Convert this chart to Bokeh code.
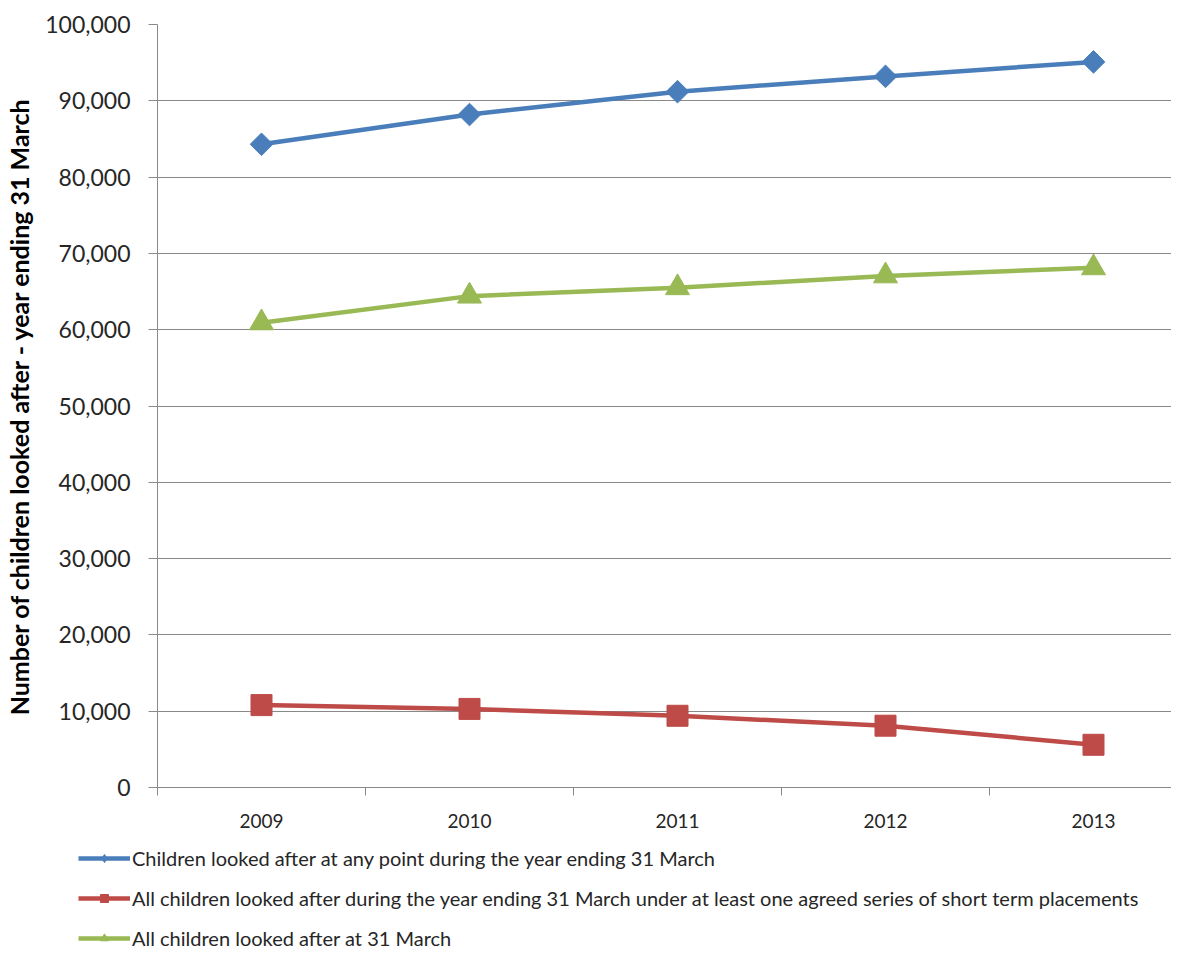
import math
from bokeh.plotting import figure
from bokeh.models import Range1d, FixedTicker, NumeralTickFormatter, Legend, LegendItem
from bokeh.embed import file_html
from bokeh.resources import INLINE

years = [2009, 2010, 2011, 2012, 2013]
year_labels = ["2009", "2010", "2011", "2012", "2013"]
any_point = [84300, 88200, 91200, 93200, 95100]
short_term = [10800, 10300, 9400, 8100, 5600]
at_31_march = [60900, 64400, 65500, 67050, 68110]

names = [
    "Children looked after at any point during the year ending 31 March",
    "All children looked after during the year ending 31 March under at least one agreed series of short term placements",
    "All children looked after at 31 March",
]
y_ticks = list(range(0, 100001, 10000))

FONT = "Lato"
TXT = "#262626"
GRID = "#898989"
blue, red, green = "#4A7EBB", "#BE4B48", "#98B954"

W = 1171
p = figure(width=W, height=835, output_backend="svg", toolbar_location=None,
           x_range=Range1d(2008.5, 2008.5 + (W - 157) / 208.0), y_range=Range1d(0, 100000),
           min_border_left=157, min_border_top=24, min_border_right=0, min_border_bottom=48)
p.outline_line_color = None
p.xgrid.grid_line_color = None
p.ygrid.grid_line_color = GRID
p.ygrid.grid_line_width = 1

p.yaxis.ticker = FixedTicker(ticks=y_ticks)
p.yaxis.formatter = NumeralTickFormatter(format="0,0")
p.yaxis.axis_line_color = GRID
p.yaxis.major_tick_line_color = GRID
p.yaxis.major_tick_out = 9
p.yaxis.major_tick_in = 0
p.yaxis.minor_tick_line_color = None
p.yaxis.major_label_standoff = 18
p.yaxis.major_label_text_font = FONT
p.yaxis.major_label_text_font_size = "23px"
p.yaxis.major_label_text_color = TXT
p.yaxis.axis_label = "Number of children looked after - year ending 31 March"
p.yaxis.axis_label_text_font = FONT
p.yaxis.axis_label_text_font_style = "bold"
p.yaxis.axis_label_text_font_size = "25px"
p.yaxis.axis_label_text_color = "black"
p.yaxis.axis_label_standoff = 8

p.xaxis.ticker = FixedTicker(ticks=years, minor_ticks=[y - 0.5 for y in years])
p.xaxis.major_label_overrides = {y: l for y, l in zip(years, year_labels)}
p.xaxis.axis_line_color = GRID
p.xaxis.major_tick_line_color = None
p.xaxis.major_tick_out = 0
p.xaxis.major_tick_in = 0
p.xaxis.minor_tick_line_color = GRID
p.xaxis.minor_tick_out = 8
p.xaxis.minor_tick_in = 0
p.xaxis.major_label_standoff = 18
p.xaxis.major_label_text_font = FONT
p.xaxis.major_label_text_font_size = "19px"
p.xaxis.major_label_text_color = TXT

series = [(names[0], any_point, blue, "square", math.pi / 4, 16, "diamond"),
          (names[1], short_term, red, "square", 0.0, 21, "square"),
          (names[2], at_31_march, green, "triangle", 0.0, 24, "triangle")]

for name, vals, col, mk, ang, sz, lmk in series:
    p.line(years, vals, line_color=col, line_width=4.5)
    p.scatter(years, vals, marker=mk, angle=ang, size=sz, fill_color=col, line_color=col)

# legend panel below the chart (separate root so it is not frame-aligned)
q = figure(width=W, height=115, output_backend="svg", toolbar_location=None,
           x_range=Range1d(0, 1), y_range=Range1d(0, 1),
           min_border=0, min_border_left=0, min_border_right=0, min_border_top=0, min_border_bottom=0)
q.xaxis.visible = False
q.yaxis.visible = False
q.grid.grid_line_color = None
q.outline_line_color = None
items = []
for name, vals, col, mk, ang, sz, lmk in series:
    lr = q.line(years, vals, line_color=col, line_width=4.5)
    sr = q.scatter(years, vals, marker=lmk, fill_color=col, line_color=col)
    items.append(LegendItem(label=name, renderers=[lr, sr]))

legend = Legend(items=items, location=(78, 0), orientation="vertical",
                glyph_width=52, glyph_height=20, label_height=20, spacing=16,
                padding=0, margin=0, border_line_color=None, background_fill_alpha=0,
                label_text_font=FONT, label_text_font_size="20px", label_text_color=TXT,
                label_standoff=2)
q.add_layout(legend, "center")

open("out.html", "w").write(file_html([p, q], INLINE))
